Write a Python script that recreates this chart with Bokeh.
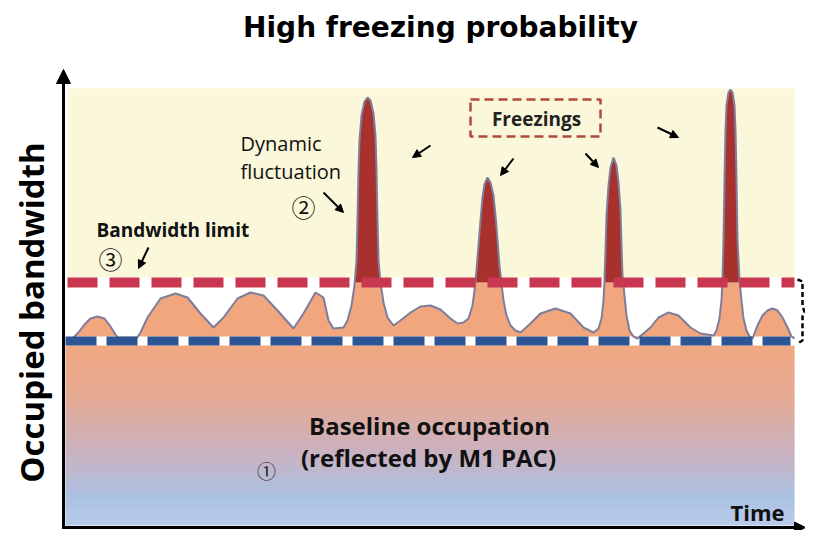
import numpy as np
from bokeh.plotting import figure
from bokeh.models import Range1d, Arrow, NormalHead
from bokeh.core.properties import value
from bokeh.embed import file_html
from bokeh.resources import INLINE

# ---------------- data (time units, bandwidth units) ----------------
time = [9, 15, 21, 27, 34, 41, 47, 52, 55, 73, 77, 84, 97, 112, 124, 137, 150,
        160, 174, 187, 200, 214, 230, 240, 252, 260, 265, 270, 280,
        284, 288, 291, 293, 294, 295, 296, 298, 301, 304, 307, 310, 312, 313,
        314, 315, 317, 320, 324, 330,
        337, 347, 357, 367, 377, 387, 394,
        400, 405, 409, 411, 413, 415, 417, 419, 421, 424, 427, 430, 432, 434,
        436, 438, 440, 443, 447, 452, 457,
        467, 477, 492, 507, 520, 530,
        535, 538, 540, 541, 542, 543, 545, 547, 550, 553, 555, 557, 558, 559,
        561, 563, 566, 570, 574,
        587, 595, 605, 615, 627, 637, 650,
        653, 656, 658, 659, 660, 661, 662, 663, 665, 667, 669, 671, 672, 673,
        674, 676, 678, 680, 683, 686, 689,
        694, 699, 704, 709, 714, 719, 724, 728, 731]
bandwidth = [203, 209, 217, 223, 225, 223, 215, 207, 203, 203, 209, 224, 243, 248, 244, 228, 214,
             224, 243, 249, 246, 231, 213, 228, 249, 244, 221, 213, 214,
             221, 236, 256, 281, 321, 371, 401, 426, 440, 444, 441, 428, 406, 371,
             321, 281, 259, 239, 224, 216,
             221, 229, 235, 236, 232, 223, 218,
             219, 223, 236, 251, 271, 296, 321, 344, 357, 364, 359, 346, 326, 301,
             276, 258, 241, 226, 216, 211, 209,
             218, 228, 233, 228, 214, 209,
             213, 223, 241, 261, 291, 326, 356, 374, 384, 376, 359, 331, 296, 266,
             246, 226, 211, 205, 203,
             214, 224, 229, 226, 214, 208, 206,
             211, 223, 241, 261, 301, 361, 411, 436, 449, 452, 449, 436, 411, 361,
             301, 261, 241, 223, 211, 205, 203,
             216, 226, 231, 233, 231, 224, 214, 205, 203]
baseline_level = 201      # baseline occupation (M1 PAC)
limit_level = 259         # bandwidth limit
ceiling_level = 453       # top of the "freezing" zone

# ---------------- figure ----------------
p = figure(width=805, height=530, x_range=Range1d(-63, 742), y_range=Range1d(11, 541),
           output_backend="svg", toolbar_location=None, min_border=0,
           x_axis_type=None, y_axis_type=None)
p.grid.visible = False
p.outline_line_color = None
p.background_fill_color = "white"
p.border_fill_color = "white"

# helpers for layout positions (picture pixel -> data)
def X(px):
    return px - 63

def Y(py):
    return 541 - py

right_edge = X(794)

# freezing zone (pale yellow)
p.quad(left=[X(67)], right=[right_edge], bottom=[limit_level + 5], top=[ceiling_level],
       fill_color="#FAF7DA", line_color=None)

# baseline occupation gradient (orange -> blue)
stops = [(0.0, (240, 168, 128)), (0.3, (229, 170, 148)), (0.6, (202, 178, 192)),
         (0.85, (171, 193, 226)), (1.0, (184, 203, 233))]
def grad(f):
    for (f0, c0), (f1, c1) in zip(stops[:-1], stops[1:]):
        if f0 <= f <= f1:
            u = (f - f0) / (f1 - f0)
            return "#%02x%02x%02x" % tuple(int(round(a + (b - a) * u)) for a, b in zip(c0, c1))
    return "#%02x%02x%02x" % stops[-1][1]
g_top, g_bot, n = baseline_level - 5, Y(525), 60
edges = np.linspace(g_top, g_bot, n + 1)
tops = edges[:-1] + 1.2
tops[0] = g_top
p.quad(left=[X(65)] * n, right=[right_edge] * n, top=tops, bottom=edges[1:],
       fill_color=[grad((i + 0.5) / n) for i in range(n)], line_color=None)

# curve with exact crossings of the limit
t = np.array(time, float)
b = np.array(bandwidth, float)
xs, ys = [t[0]], [b[0]]
for i in range(1, len(t)):
    b0, b1 = b[i - 1], b[i]
    if (b0 - limit_level) * (b1 - limit_level) < 0:
        f = (limit_level - b0) / (b1 - b0)
        xs.append(t[i - 1] + f * (t[i] - t[i - 1]))
        ys.append(limit_level)
    xs.append(t[i])
    ys.append(b[i])
xs = np.array(xs)
ys = np.array(ys)
p.varea(x=xs, y1=np.full(len(xs), baseline_level + 4.0), y2=np.minimum(ys, limit_level),
        fill_color="#F1A67E")
p.varea(x=xs, y1=np.full(len(xs), float(limit_level)), y2=np.maximum(ys, limit_level),
        fill_color="#A8312D")
p.line(xs, ys, line_color="#7E7D9C", line_width=2)

# limit and baseline dashed lines
p.line([X(67), right_edge], [limit_level, limit_level], line_color="#C8374F",
       line_width=10, line_dash="30 12")
p.line([X(65), X(790)], [baseline_level - 0.5, baseline_level - 0.5], line_color="#2D5596",
       line_width=9, line_dash="31 10")

# axes with arrows
axis_y = Y(527)
p.add_layout(Arrow(end=NormalHead(size=14, fill_color="black", line_color="black"),
                   x_start=0, y_start=axis_y - 1.5, x_end=0, y_end=Y(69),
                   line_width=3, line_color="black"))
p.add_layout(Arrow(end=NormalHead(size=11, fill_color="black", line_color="black"),
                   x_start=-1.5, y_start=axis_y, x_end=X(805), y_end=axis_y,
                   line_width=3, line_color="black"))

# bracket on the right
p.line([X(797), X(802), X(802), X(804), X(802), X(802), X(797)],
       [Y(279), Y(281), Y(306), Y(311), Y(316), Y(340), Y(343)],
       line_color="black", line_width=2.5, line_dash="5 3")

# Freezings box
p.quad(left=[X(470)], right=[X(600)], bottom=[Y(136)], top=[Y(99)], fill_color=None,
       line_color="#B04A3C", line_width=2.5, line_dash="9 5")

# small arrows
arrows = [((323, 192), (343, 212)), ((430, 145), (412, 157)), ((513, 158), (500, 175)),
          ((585, 153), (598, 167)), ((657, 127), (678, 137)), ((148, 247), (138, 268))]
for (x0, y0), (x1, y1) in arrows:
    p.add_layout(Arrow(end=NormalHead(size=8, fill_color="black", line_color="black"),
                       x_start=X(x0), y_start=Y(y0), x_end=X(x1), y_end=Y(y1),
                       line_width=2, line_color="black"))

# texts (anchored at their visual middle)
p.text(x=[X(440)], y=[Y(27)], text=["High freezing probability"],
       text_font=value("DejaVu Sans"), text_font_style="bold", text_font_size="28px",
       text_align="center", text_baseline="middle", text_color="black")
p.text(x=[X(31)], y=[Y(312)], text=["Occupied bandwidth"], angle=np.pi / 2,
       text_font=value("Open Sans"), text_font_style="bold", text_font_size="33px",
       text_align="center", text_baseline="middle", text_color="black")
p.text(x=[X(784)], y=[Y(511)], text=["Time"],
       text_font=value("Open Sans"), text_font_style="bold", text_font_size="22px",
       text_align="right", text_baseline="middle", text_color="#111111")
p.text(x=[X(429), X(428)], y=[Y(425), Y(457)],
       text=["Baseline occupation", "(reflected by M1 PAC)"],
       text_font=value("Open Sans"), text_font_style="bold", text_font_size="24px",
       text_align="center", text_baseline="middle", text_color="#111111")
p.text(x=[X(240), X(240)], y=[Y(143), Y(171)], text=["Dynamic", "fluctuation"],
       text_font=value("Open Sans"), text_font_size="20px",
       text_align="left", text_baseline="middle", text_color="#111111")
p.text(x=[X(96)], y=[Y(229)], text=["Bandwidth limit"],
       text_font=value("Open Sans"), text_font_style="bold", text_font_size="19px",
       text_align="left", text_baseline="middle", text_color="#111111")
p.text(x=[X(536)], y=[Y(118)], text=["Freezings"],
       text_font=value("Open Sans"), text_font_style="bold", text_font_size="19px",
       text_align="center", text_baseline="middle", text_color="#222222")
p.text(x=[X(303), X(110)], y=[Y(206), Y(258)], text=["②", "③"],
       text_font=value("Noto Sans CJK SC"), text_font_size="24px",
       text_align="center", text_baseline="middle", text_color="#111111")
p.text(x=[X(266)], y=[Y(470)], text=["①"],
       text_font=value("Noto Sans CJK SC"), text_font_size="19px",
       text_align="center", text_baseline="middle", text_color="#222222")

open("out.html", "w").write(file_html(p, INLINE))
